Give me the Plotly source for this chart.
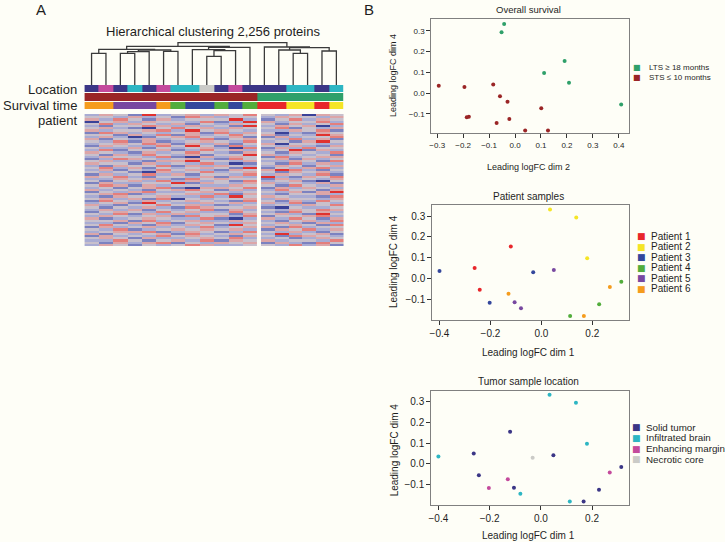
import plotly.graph_objects as go

W, H = 725, 542
BG = "#fefef7"
FONT = "Liberation Sans, Arial, sans-serif"
INK = "#1e1e1e"

# ---------------- data (samples in dendrogram column order) ----------------
sample_location = ["Solid tumor", "Enhancing margin", "Solid tumor", "Infiltrated brain", "Solid tumor",
                   "Enhancing margin", "Infiltrated brain", "Infiltrated brain", "Necrotic core", "Solid tumor",
                   "Enhancing margin", "Solid tumor", "Solid tumor", "Solid tumor", "Infiltrated brain",
                   "Infiltrated brain", "Solid tumor", "Infiltrated brain"]
sample_survival = ["STS", "STS", "STS", "STS", "STS", "STS", "STS", "STS", "STS", "STS", "STS", "STS",
                   "LTS", "LTS", "LTS", "LTS", "LTS", "LTS"]
sample_patient = [6, 6, 5, 5, 5, 6, 4, 3, 3, 4, 3, 4, 1, 1, 2, 2, 1, 2]
dim1 = [0.167, -0.129, 0.049, -0.080, -0.105, 0.269, 0.113, -0.400, -0.032, 0.227, -0.203, 0.314,
        -0.120, -0.262, 0.034, 0.137, -0.242, 0.180]
dim2 = [0.127, 0.101, -0.084, -0.071, -0.178, -0.029, 0.039, -0.294, -0.195, -0.022, -0.186, -0.058,
        0.191, 0.208, -0.042, -0.052, 0.409, 0.112]
dim4 = [-0.180, -0.073, 0.041, -0.143, -0.114, -0.041, -0.180, 0.036, 0.030, -0.124, -0.116, -0.015,
        0.154, 0.050, 0.332, 0.293, -0.054, 0.097]

# dendrogram merges: (child a, child b, height); leaves 0..17, merges numbered from 18
dendro_merges = [(0, 1, 31.7), (2, 3, 31.7), (19, 4, 33.3), (5, 6, 33.7), (20, 21, 35.0), (18, 22, 35.7),
                 (8, 9, 28.7), (24, 10, 34.3), (7, 25, 35.3), (26, 11, 37.7), (23, 27, 38.7),
                 (14, 15, 31.7), (13, 29, 35.0), (16, 17, 34.0), (30, 31, 37.3), (12, 32, 38.0),
                 (28, 33, 42.3)]

# protein expression heatmap (levels 0 = low/blue ... 6 = high/red); 12 | 6 columns
heat_rows = [
    "243162342435|324043", "332423154233|243324", "425314233362|135243", "034243325126|423352",
    "352432413243|314235", "213354242316|243402", "342103534243|351324", "423345263432|224351",
    "154232341524|302143", "331425142353|413264", "242013453241|142335", "413242325134|325241",
    "325141234325|231463", "234354142413|403322", "143225363152|324214", "322413234205|142533",
    "251334125342|236142", "432142353214|314325", "314253241336|423231", "243325104243|152344",
    "125432342153|341423", "342214463324|224315", "433142325201|315242", "214335142432|243134",
    "352413234316|132452", "241325342143|465213", "323104235234|314342", "142352413325|243251",
    "435213324142|621435", "224342153433|142324", "313425242315|234103", "142233614324|423241",
    "354142332243|315324", "231345104435|142432", "423213453142|253314", "132452234323|324146",
    "345123342514|213342", "214334225263|432215", "342415032334|243324", "153242343215|314253",
    "234163224342|425132", "421335342123|232435", "313242154334|103223", "242413235142|324354",
    "134325342253|215342", "325142423314|342163", "243234153425|133452", "412343225102|425314",
    "334152342243|213425", "221435134324|342142", "353214243163|234315", "142342325234|415233",
    "325123434342|143524", "234451243125|324213", "413234152343|262341", "142325343214|315432",
    "343142234352|231243", "225313425143|423325", "314245132434|142153", "243132354223|325241",
]
heat_levels = ["#3a4298", "#7c82c0", "#a9acd3", "#c8c0cc", "#dca6a8", "#e47f7c", "#e0322f"]

location_colors = {"Solid tumor": "#3b3686", "Infiltrated brain": "#2db6c3",
                   "Enhancing margin": "#c44a9c", "Necrotic core": "#cbcbc7"}
survival_colors = {"LTS": "#2fa06a", "STS": "#9a2526"}
patient_colors = {1: "#e8262b", 2: "#f5e525", 3: "#34479c", 4: "#52ad3c", 5: "#7848a0", 6: "#f59c1d"}
survival_legend = [("LTS", "LTS \u2265 18 months"), ("STS", "STS \u2264 10 months")]
location_legend = ["Solid tumor", "Infiltrated brain", "Enhancing margin", "Necrotic core"]


def fx(p):
    return p / W


def fy(p):
    return 1 - p / H


fig = go.Figure()

# ---------------- dendrogram ----------------
node_x = {i: float(i) for i in range(len(sample_patient))}
node_h = {i: 0.0 for i in range(len(sample_patient))}
dx, dy = [], []
for k, (a, b, h) in enumerate(dendro_merges):
    idx = len(sample_patient) + k
    dx += [node_x[a], node_x[a], node_x[b], node_x[b], None]
    dy += [node_h[a], h, h, node_h[b], None]
    node_x[idx] = (node_x[a] + node_x[b]) / 2
    node_h[idx] = h
fig.add_trace(go.Scatter(x=dx, y=dy, mode="lines", line=dict(color="#3a3a3a", width=1.3),
                         xaxis="x", yaxis="y", showlegend=False, hoverinfo="skip"))

# ---------------- annotation colour bars ----------------
palette = list(location_colors.values()) + list(survival_colors.values()) + list(patient_colors.values())
loc_keys = list(location_colors.keys())
surv_keys = list(survival_colors.keys())
pat_keys = list(patient_colors.keys())
bar_z = [
    [loc_keys.index(v) for v in sample_location],
    [len(loc_keys) + surv_keys.index(v) for v in sample_survival],
    [len(loc_keys) + len(surv_keys) + pat_keys.index(v) for v in sample_patient],
]
n = len(palette)
cs = []
for i, c in enumerate(palette):
    cs.append([i / n, c])
    cs.append([(i + 1) / n, c])
fig.add_trace(go.Heatmap(z=bar_z, x=list(range(len(sample_patient))), y=[0, 1, 2], colorscale=cs,
                         zmin=-0.5, zmax=n - 0.5, showscale=False, ygap=1,
                         xaxis="x", yaxis="y2", hoverinfo="skip"))

# ---------------- protein heatmap ----------------
left = [[int(ch) for ch in r.split("|")[0]] for r in heat_rows]
right = [[int(ch) for ch in r.split("|")[1]] for r in heat_rows]
hcs = [[i / (len(heat_levels) - 1), c] for i, c in enumerate(heat_levels)]
nl = len(left[0])
fig.add_trace(go.Heatmap(z=left, x=list(range(nl)), y=list(range(len(heat_rows))), colorscale=hcs,
                         zmin=0, zmax=6, showscale=False, xaxis="x3", yaxis="y3", hoverinfo="skip"))
fig.add_trace(go.Heatmap(z=right, x=list(range(nl, nl + len(right[0]))), y=list(range(len(heat_rows))),
                         colorscale=hcs, zmin=0, zmax=6, showscale=False, xaxis="x4", yaxis="y3",
                         hoverinfo="skip"))

# ---------------- scatter plots ----------------
MS = 4
# plot 1: overall survival (dim2 vs dim4)
for key in ["STS", "LTS"]:
    ids = [i for i, s in enumerate(sample_survival) if s == key]
    fig.add_trace(go.Scatter(x=[dim2[i] for i in ids], y=[dim4[i] for i in ids], mode="markers",
                             marker=dict(color=survival_colors[key], size=MS),
                             xaxis="x5", yaxis="y5", showlegend=False, hoverinfo="skip"))
# plot 2: patient (dim1 vs dim4)
for p in pat_keys:
    ids = [i for i, s in enumerate(sample_patient) if s == p]
    fig.add_trace(go.Scatter(x=[dim1[i] for i in ids], y=[dim4[i] for i in ids], mode="markers",
                             marker=dict(color=patient_colors[p], size=MS),
                             xaxis="x6", yaxis="y6", showlegend=False, hoverinfo="skip"))
# plot 3: location (dim1 vs dim4)
for loc in location_legend:
    ids = [i for i, s in enumerate(sample_location) if s == loc]
    fig.add_trace(go.Scatter(x=[dim1[i] for i in ids], y=[dim4[i] for i in ids], mode="markers",
                             marker=dict(color=location_colors[loc], size=MS),
                             xaxis="x7", yaxis="y7", showlegend=False, hoverinfo="skip"))

# ---------------- layout ----------------
hidden = dict(visible=False, showgrid=False, zeroline=False, fixedrange=True)


def box_axis(domain, rng, ticks, anchor, size):
    return dict(domain=domain, range=rng, tickvals=ticks, tickformat=".1f", anchor=anchor,
                showline=True, mirror=True, linecolor="#808080", linewidth=1,
                ticks="outside", ticklen=4, tickwidth=1, tickcolor="#333333",
                tickfont=dict(size=size, color=INK, family=FONT),
                showgrid=False, zeroline=False, fixedrange=True)


layout = dict(
    width=W, height=H, margin=dict(l=0, r=0, t=0, b=0),
    paper_bgcolor=BG, plot_bgcolor=BG, showlegend=False, hovermode=False,
    font=dict(family=FONT, color=INK),
    xaxis=dict(domain=[fx(81.7), fx(342)], range=[-0.5, 17.5], anchor="y", **hidden),
    yaxis=dict(domain=[fy(85), fy(42)], range=[0, 43], anchor="x", **hidden),
    yaxis2=dict(domain=[fy(110), fy(85)], range=[2.5, -0.5], anchor="x", **hidden),
    xaxis3=dict(domain=[fx(81.7), fx(255)], range=[-0.5, 11.5], anchor="y3", **hidden),
    xaxis4=dict(domain=[fx(259), fx(342)], range=[11.5, 17.5], anchor="y3", **hidden),
    yaxis3=dict(domain=[fy(246), fy(114)], range=[len(heat_rows) - 0.5, -0.5], anchor="x3", **hidden),
    xaxis5=box_axis([fx(430), fx(628.3)], [-0.323, 0.438],
                    [-0.3, -0.2, -0.1, 0.0, 0.1, 0.2, 0.3, 0.4], "y5", 8),
    yaxis5=box_axis([fy(133.3), fy(19.3)], [-0.193, 0.355], [-0.1, 0.0, 0.1, 0.2, 0.3], "x5", 8),
    xaxis6=box_axis([fx(431), fx(628.3)], [-0.4286, 0.343], [-0.4, -0.2, 0.0, 0.2], "y6", 10),
    yaxis6=box_axis([fy(320), fy(205)], [-0.199, 0.353], [-0.1, 0.0, 0.1, 0.2, 0.3], "x6", 10),
    xaxis7=box_axis([fx(430), fx(628.3)], [-0.428, 0.343], [-0.4, -0.2, 0.0, 0.2], "y7", 10),
    yaxis7=box_axis([fy(505), fy(390.7)], [-0.197, 0.351], [-0.1, 0.0, 0.1, 0.2, 0.3], "x7", 10),
)
fig.update_layout(**layout)

ann = []


def text(t, x, y, size, xanchor="center", angle=0, color=INK, family=FONT):
    ann.append(dict(text=t, x=fx(x), y=fy(y), xref="paper", yref="paper", showarrow=False,
                    xanchor=xanchor, yanchor="middle", textangle=angle,
                    font=dict(size=size, color=color, family=family)))


text("A", 38, 10, 15)
text("B", 368, 10, 15)
text("Hierarchical clustering 2,256 proteins", 211, 31, 13)
text("Location", 76, 90, 13, "right")
text("Survival time", 76, 105.5, 13, "right")
text("patient", 76, 121, 13, "right")

text("Overall survival", 528, 10, 9.5)
text("Leading logFC dim 2", 528, 166.7, 9)
text("Leading logFC dim 4", 391.7, 76, 9, angle=-90)
text("Patient samples", 528, 196.7, 10)
text("Leading logFC dim 1", 528, 352.7, 10)
text("Leading logFC dim 4", 391.7, 262, 10, angle=-90)
text("Tumor sample location", 528, 381.7, 10)
text("Leading logFC dim 1", 528, 535, 10)
text("Leading logFC dim 4", 393, 450, 10, angle=-90)

SQ = "\u25a0"
for k, (key, label) in enumerate(survival_legend):
    y = 67.7 + 10 * k
    text(SQ, 637, y, 8, color=survival_colors[key], family="DejaVu Sans")
    text(label, 646.7, y, 8, "left")
for k, p in enumerate(pat_keys):
    y = 236 + 10.55 * k
    text(SQ, 641, y, 9, color=patient_colors[p], family="DejaVu Sans")
    text("Patient %d" % p, 648.3, y, 10, "left")
for k, loc in enumerate(location_legend):
    y = 427.3 + 10.67 * k
    text(SQ, 636.5, y, 9, color=location_colors[loc], family="DejaVu Sans")
    text(loc, 643.3, y, 9.8, "left")

fig.update_layout(annotations=ann)
fig.write_html("out.html", config={"displayModeBar": False, "staticPlot": True},
               post_script="document.body.style.margin='0';document.body.style.background='%s';" % BG)
